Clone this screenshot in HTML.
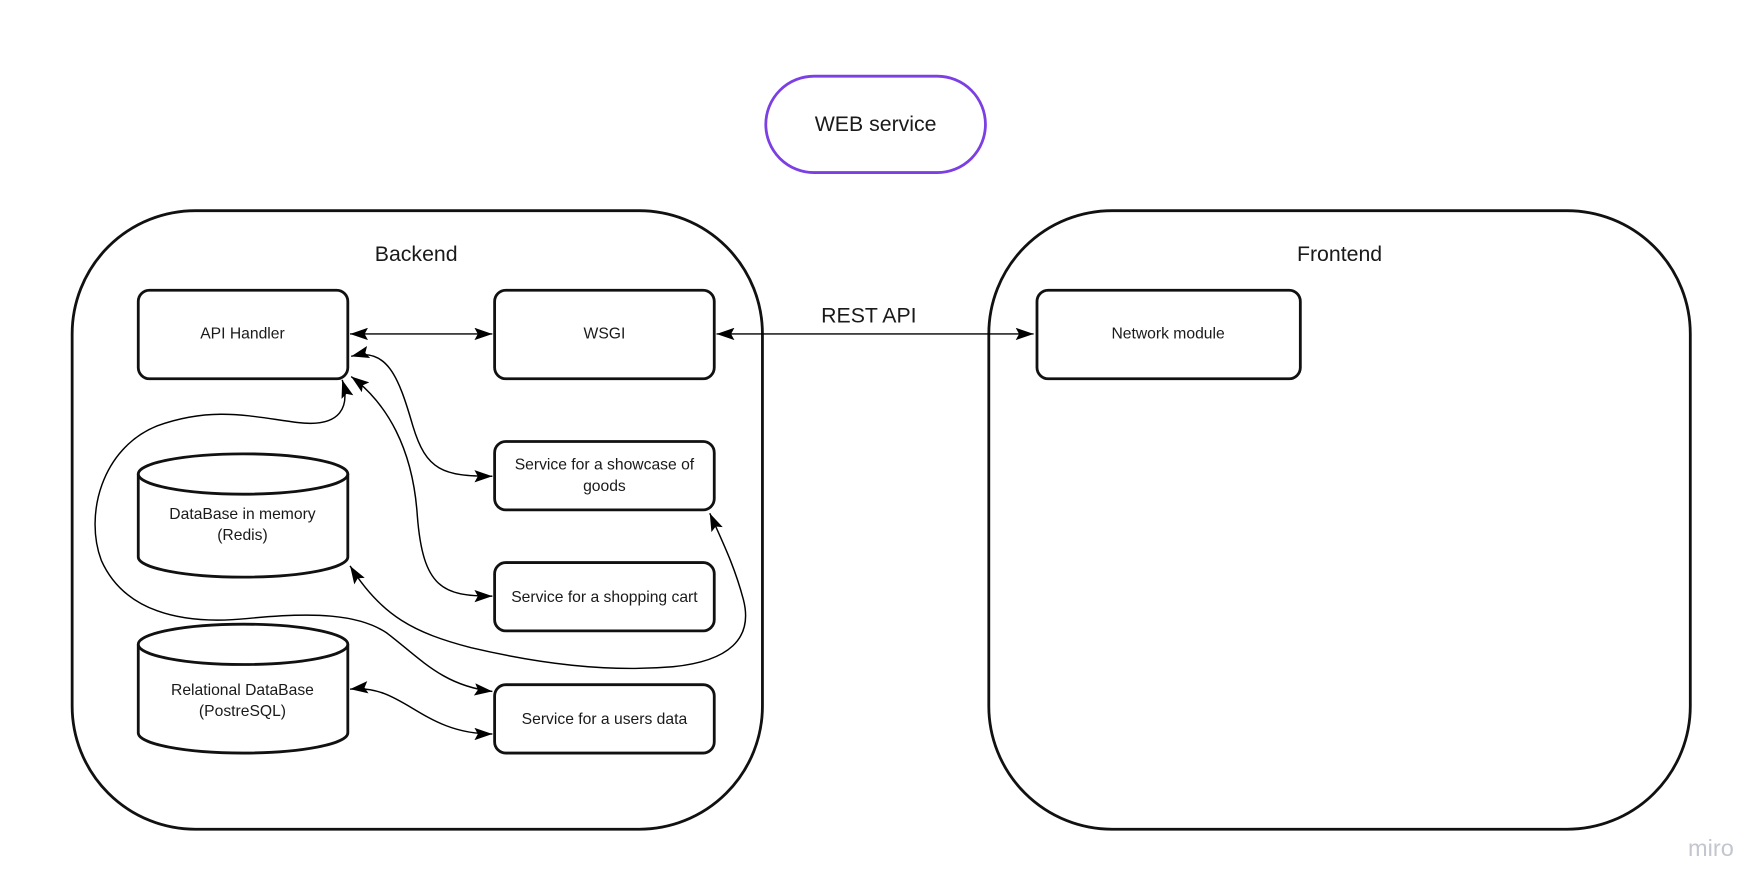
<!DOCTYPE html>
<html><head><meta charset="utf-8"><style>
html,body{margin:0;padding:0;background:#fff;}
svg{display:block;}
text{font-family:"Liberation Sans","DejaVu Sans",sans-serif;fill:#1a1a1a;}
</style></head><body>
<svg width="1749" height="892" viewBox="0 0 1560 796" xmlns="http://www.w3.org/2000/svg">
<defs>
<marker id="a" viewBox="0 0 16 11" refX="16" refY="5.5" markerWidth="16" markerHeight="11" markerUnits="userSpaceOnUse" orient="auto-start-reverse">
<path d="M0,0 L16,5.5 L0,11 L3,5.5 Z" fill="#000"/>
</marker>
</defs>
<rect width="1560" height="796" fill="#fff"/>
<rect x="683" y="68" width="196" height="86" rx="43" fill="none" stroke="#7b3fe4" stroke-width="2.5"/>
<text x="781" y="117" font-size="19" text-anchor="middle">WEB service</text>
<rect x="64" y="188" width="616" height="552" rx="110" fill="none" stroke="#111" stroke-width="2.5"/>
<text x="371" y="233" font-size="19" text-anchor="middle">Backend</text>
<rect x="882" y="188" width="626" height="552" rx="110" fill="none" stroke="#111" stroke-width="2.5"/>
<text x="1195" y="233" font-size="19" text-anchor="middle">Frontend</text>
<g fill="#fff" stroke="#111" stroke-width="2.5">
<rect x="123" y="259" width="187" height="79" rx="10"/>
<rect x="441" y="259" width="196" height="79" rx="10"/>
<rect x="925" y="259" width="235" height="79" rx="10"/>
<rect x="441" y="394" width="196" height="61" rx="10"/>
<rect x="441" y="502" width="196" height="61" rx="10"/>
<rect x="441" y="611" width="196" height="61" rx="10"/>
<path d="M123,423 L123,497 A93.5,18 0 0 0 310,497 L310,423"/>
<ellipse cx="216.5" cy="423" rx="93.5" ry="18"/>
<path d="M123,575 L123,654 A93.5,18 0 0 0 310,654 L310,575"/>
<ellipse cx="216.5" cy="575" rx="93.5" ry="18"/>
</g>
<g font-size="14" text-anchor="middle">
<text x="216" y="302">API Handler</text>
<text x="539" y="302">WSGI</text>
<text x="1042" y="302">Network module</text>
<text x="539" y="419">Service for a showcase of</text>
<text x="539" y="438">goods</text>
<text x="539" y="537">Service for a shopping cart</text>
<text x="539" y="646">Service for a users data</text>
<text x="216" y="463">DataBase in memory</text>
<text x="216" y="482">(Redis)</text>
<text x="216" y="620">Relational DataBase</text>
<text x="216" y="639">(PostreSQL)</text>
</g>
<text x="775" y="288" font-size="19" text-anchor="middle">REST API</text>
<g fill="none" stroke="#000" stroke-width="1.3" marker-start="url(#a)" marker-end="url(#a)">
<path d="M312,298 L439,298"/>
<path d="M639,298 L922,298"/>
<path d="M313,318 C345,310 355,335 368,380 C380,420 395,425 439,425"/>
<path d="M313,336 C345,360 368,400 372,460 C377,525 395,532 439,532"/>
<path d="M305,339 C312,362 305,382 265,377 C225,372 190,362 140,380 C90,400 75,460 90,500 C110,545 160,558 220,552 C280,546 320,548 345,565 C375,588 395,612 439,617"/>
<path d="M312,505 C340,550 370,565 420,578 C480,592 540,600 600,595 C650,590 672,570 663,535 C655,505 645,485 633,458"/>
<path d="M312,615 C360,610 375,655 439,655"/>
</g>
<text x="1506" y="764" font-size="21" style="fill:#c3c6cf">miro</text>
</svg>
</body></html>
